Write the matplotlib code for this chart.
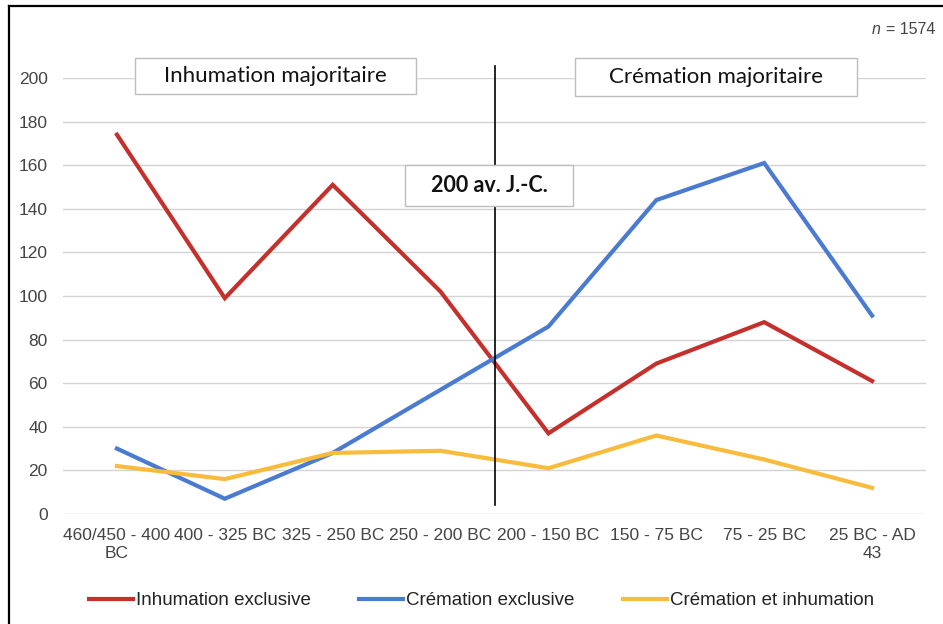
import matplotlib
matplotlib.use("Agg")
import matplotlib.pyplot as plt
from matplotlib.lines import Line2D
from matplotlib.patches import Rectangle

periods = ["460/450 - 400\nBC", "400 - 325 BC", "325 - 250 BC", "250 - 200 BC",
           "200 - 150 BC", "150 - 75 BC", "75 - 25 BC", "25 BC - AD\n43"]
inhumation_excl = [174, 99, 151, 102, 37, 69, 88, 61]
cremation_excl = [30, 7, 28, 57, 86, 144, 161, 91]
cremation_inhum = [22, 16, 28, 29, 21, 36, 25, 12]
series_labels = ["Inhumation exclusive", "Crémation exclusive", "Crémation et inhumation"]
series_colors = ["#c4312c", "#4a7bd0", "#f8bb3c"]
yticks = [0, 20, 40, 60, 80, 100, 120, 140, 160, 180, 200]

plt.rcParams["font.family"] = ["Liberation Sans", "DejaVu Sans"]

fig = plt.figure(figsize=(9.43, 6.24), dpi=100)
ax = fig.add_axes([0.0668, 0.1763, 0.9152, 0.6987])

x = range(len(periods))
for vals, lab, col in zip([inhumation_excl, cremation_excl, cremation_inhum],
                          series_labels, series_colors):
    ax.plot(x, vals, color=col, lw=3, label=lab, solid_joinstyle="miter", zorder=3)

ax.set_xlim(-0.5, len(periods) - 0.5)
ax.set_ylim(0, 200)
ax.set_yticks(yticks)
ax.set_xticks(list(x))
ax.set_xticklabels(periods, fontsize=12.5, color="#444444", linespacing=1.25)
ax.tick_params(axis="y", labelsize=12.5, labelcolor="#444444", length=0, pad=11)
ax.tick_params(axis="x", length=0, pad=10)
ax.grid(axis="y", color="#d4d4d4", lw=1)
ax.set_axisbelow(True)
for s in ax.spines.values():
    s.set_visible(False)

# separator at 200 BC
ax.plot([3.5, 3.5], [4, 205.5], color="black", lw=1.2, clip_on=False, zorder=4)

# labelled boxes
boxes = [
    (0.167, 192.7, 2.605, 16.5, "Inhumation majoritaire", "normal", 16),
    (4.246, 191.7, 2.614, 17.5, "Crémation majoritaire", "normal", 16),
    (2.670, 141.3, 1.558, 18.8, "200 av. J.-C.", "bold", 15.5),
]
for bx, by, bw, bh, txt, weight, fs in boxes:
    ax.add_patch(Rectangle((bx, by), bw, bh, facecolor="white", edgecolor="#bdbdbd",
                           lw=1, clip_on=False, zorder=5))
    ax.text(bx + bw / 2, by + bh / 2, txt, ha="center", va="center", fontsize=fs,
            fontweight=weight, family=["Lato", "DejaVu Sans"], color="#111111", zorder=6)

fig.legend(loc="center", bbox_to_anchor=(0.5106, 0.037), ncol=3, frameon=False,
           fontsize=13.5, handlelength=2.35, handletextpad=0.15, columnspacing=2.6,
           labelcolor="#222222")

fig.text(935 / 943, 1 - 30 / 624, "= 1574", ha="right", va="center", fontsize=11.5, color="#444444")
fig.text(881 / 943, 1 - 30 / 624, "n", ha="right", va="center", fontsize=11.5,
         color="#444444", fontstyle="italic")

# frame edges
fig.add_artist(Line2D([9 / 943, 1], [1 - 6 / 624, 1 - 6 / 624], color="black", lw=1.6))
fig.add_artist(Line2D([9 / 943, 9 / 943], [0, 1 - 6 / 624], color="black", lw=1.6))

fig.savefig("out.png", dpi=100)
